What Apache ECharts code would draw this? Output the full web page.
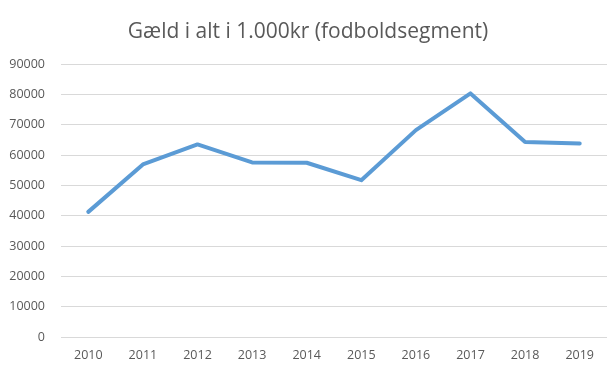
<!DOCTYPE html>
<html>
<head>
<meta charset="utf-8">
<script src="https://cdn.jsdelivr.net/npm/echarts@6/dist/echarts.min.js"></script>
<style>html,body{margin:0;padding:0;background:#fff}#c{width:616px;height:375px}</style>
</head>
<body>
<div id="c"></div>
<script>
const titleText = 'Gæld i alt i 1.000kr (fodboldsegment)';
const years = ['2010','2011','2012','2013','2014','2015','2016','2017','2018','2019'];
const debt = [41250, 56900, 63500, 57550, 57450, 51700, 68200, 80300, 64300, 63800];
const yMin = 0, yMax = 90000, yStep = 10000;

const chart = echarts.init(document.getElementById('c'), null, {renderer:'canvas'});
chart.setOption({
  animation: false,
  backgroundColor: '#ffffff',
  title: {
    text: titleText, left: 'center', top: 17,
    textStyle: {fontFamily: 'Open Sans', fontSize: 21, fontWeight: 'normal', color: '#595959'}
  },
  grid: {left: 61, right: 9, top: 64, bottom: 38, containLabel: false},
  xAxis: {
    type: 'category', data: years, boundaryGap: true,
    axisLine: {show: false}, axisTick: {show: false},
    axisLabel: {fontFamily: 'Open Sans', fontSize: 12.5, color: '#595959', margin: 12}
  },
  yAxis: {
    type: 'value', min: yMin, max: yMax, interval: yStep,
    axisLine: {show: false}, axisTick: {show: false},
    axisLabel: {fontFamily: 'Open Sans', fontSize: 12.5, color: '#595959', margin: 16,
      formatter: v => String(v)},
    splitLine: {lineStyle: {color: '#d9d9d9', width: 1}}
  },
  series: [{
    type: 'line', data: debt, symbol: 'none',
    lineStyle: {color: '#5b9bd5', width: 4, cap: 'round', join: 'round'}
  }]
});
</script>
</body>
</html>
